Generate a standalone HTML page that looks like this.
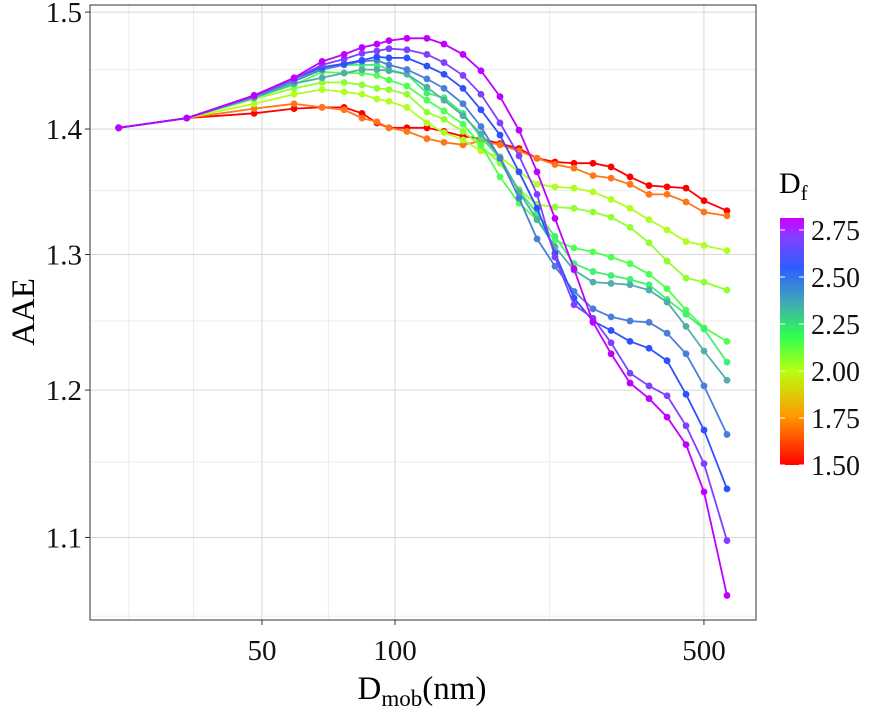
<!DOCTYPE html>
<html><head><meta charset="utf-8"><style>
body{margin:0;background:#fff;}
svg text{font-family:"Liberation Serif",serif;}
</style></head><body>
<svg id="chart" width="882" height="707" viewBox="0 0 882 707" xmlns="http://www.w3.org/2000/svg">
<defs>
<linearGradient id="cbar" x1="0" y1="1" x2="0" y2="0">
<stop offset="0" stop-color="#ff0000"/>
<stop offset="0.2" stop-color="#ff9a00"/>
<stop offset="0.38" stop-color="#b8ff10"/>
<stop offset="0.52" stop-color="#30ff50"/>
<stop offset="0.66" stop-color="#40a8b8"/>
<stop offset="0.8" stop-color="#2f5cff"/>
<stop offset="0.92" stop-color="#8040ff"/>
<stop offset="1" stop-color="#d000ff"/>
</linearGradient>
<clipPath id="pc"><rect x="90" y="5" width="666" height="615"/></clipPath>
</defs>
<g id="grid"></g>
<g id="series" clip-path="url(#pc)"></g>
<rect x="90" y="5" width="666" height="615" fill="none" stroke="#333" stroke-width="1"/>
<g id="axes"></g>
<text x="422" y="699" font-size="33" text-anchor="middle">D<tspan font-size="23" dy="7">mob</tspan><tspan dy="-7">(nm)</tspan></text>
<text transform="translate(34,312) rotate(-90)" font-size="33" text-anchor="middle">AAE</text>
<g>
<text x="779" y="193" font-size="30">D<tspan font-size="21" dy="7">f</tspan></text>
<rect x="780" y="218" width="24" height="247" fill="url(#cbar)"/>
<g id="cbticks"></g>
</g>
</svg>
<script>
const diameters=[23.7,33.8,48,59.1,68.4,76.7,84.2,91,96.9,106.4,118.1,129.1,142.5,156.5,172.8,190.8,209.6,230.1,254.1,280.5,308.2,340.2,375.6,412.6,455.4,500.2,563.8];
const dfValues=[1.5,1.6,1.8,1.9,2.0,2.1,2.2,2.4,2.5,2.65,2.8];
const seriesColors=["#ff0000","#ff7518","#b0ff20","#90ff30","#50ff50","#40f070","#50b0a8","#4a7fd8","#2f50ff","#8040ff","#c000ff"];
const s15=[1.401,1.409,1.413,1.417,1.418,1.418,1.413,1.405,1.401,1.401,1.401,1.398,1.394,1.392,1.388,1.384,1.376,1.373,1.372,1.372,1.369,1.361,1.354,1.353,1.352,1.342,1.334];
const s16=[1.401,1.409,1.417,1.421,1.418,1.416,1.409,1.406,1.401,1.398,1.392,1.389,1.387,1.390,1.387,1.382,1.376,1.371,1.368,1.362,1.360,1.355,1.347,1.347,1.341,1.333,1.330];
const s18=[1.401,1.409,1.421,1.429,1.433,1.431,1.429,1.425,1.423,1.418,1.405,1.397,1.391,1.382,1.377,1.365,1.355,1.353,1.352,1.349,1.343,1.336,1.327,1.319,1.310,1.307,1.303];
const s19=[1.401,1.409,1.425,1.434,1.439,1.439,1.437,1.434,1.433,1.429,1.414,1.408,1.398,1.386,1.372,1.351,1.339,1.337,1.336,1.333,1.329,1.321,1.309,1.295,1.282,1.279,1.273];
const s20=[1.401,1.409,1.426,1.437,1.448,1.447,1.447,1.445,1.441,1.436,1.424,1.415,1.404,1.387,1.361,1.340,1.327,1.311,1.305,1.302,1.298,1.293,1.285,1.274,1.258,1.245,1.235];
const s21=[1.401,1.409,1.427,1.440,1.451,1.454,1.454,1.454,1.450,1.446,1.430,1.426,1.413,1.393,1.376,1.350,1.332,1.314,1.293,1.287,1.284,1.281,1.277,1.266,1.255,1.244,1.220];
const s22=[1.401,1.409,1.426,1.438,1.443,1.447,1.450,1.450,1.449,1.446,1.435,1.424,1.411,1.396,1.377,1.349,1.327,1.306,1.288,1.279,1.278,1.277,1.273,1.264,1.246,1.228,1.207];
const s24=[1.401,1.409,1.427,1.440,1.450,1.454,1.457,1.458,1.454,1.450,1.442,1.434,1.421,1.402,1.376,1.344,1.312,1.291,1.272,1.259,1.253,1.250,1.249,1.241,1.226,1.203,1.169];
const s25=[1.401,1.409,1.428,1.442,1.452,1.455,1.458,1.461,1.460,1.460,1.453,1.446,1.434,1.416,1.395,1.365,1.336,1.301,1.267,1.250,1.243,1.235,1.230,1.221,1.197,1.172,1.132];
const s265=[1.401,1.409,1.428,1.442,1.454,1.459,1.464,1.466,1.468,1.467,1.463,1.456,1.445,1.429,1.405,1.378,1.347,1.298,1.262,1.252,1.234,1.212,1.203,1.196,1.175,1.149,1.098];
const s28=[1.401,1.409,1.428,1.443,1.457,1.463,1.469,1.472,1.475,1.477,1.477,1.472,1.463,1.449,1.427,1.399,1.365,1.328,1.289,1.249,1.226,1.205,1.194,1.181,1.162,1.130,1.063];
const allSeries=[s15,s16,s18,s19,s20,s21,s22,s24,s25,s265,s28];
const xTicks=[50,100,500];
const xMinor=[25,35,70.7,223.6];
const yTicks=[1.1,1.2,1.3,1.4,1.5];
const yMinor=[1.05,1.15,1.25,1.35,1.45];
const cbTicks=[1.5,1.75,2.0,2.25,2.5,2.75];

const NS="http://www.w3.org/2000/svg";
const xs=d=>395+442*Math.log10(d/100);
const ys=v=>129+(Math.log10(1.4)-Math.log10(v))*3900;
const cby=v=>465-(v-1.5)*188;
function mk(tag,attrs,parent){const e=document.createElementNS(NS,tag);for(const k in attrs)e.setAttribute(k,attrs[k]);parent.appendChild(e);return e;}
const grid=document.getElementById('grid');
const axes=document.getElementById('axes');
yMinor.forEach(v=>{const l=mk('line',{x1:90,x2:756,y1:ys(v),y2:ys(v),stroke:'#ededed','stroke-width':1},grid);

});
xMinor.forEach(v=>{const l=mk('line',{x1:xs(v),x2:xs(v),y1:5,y2:620,stroke:'#ededed','stroke-width':1},grid);

});
yTicks.forEach(v=>{const l=mk('line',{x1:90,x2:756,y1:ys(v),y2:ys(v),stroke:'#d6d6d6','stroke-width':1},grid);


const t=mk('line',{x1:85,x2:90,y1:ys(v),y2:ys(v),stroke:'#333'},axes);


const tx=mk('text',{x:82,y:ys(v)+10,'font-size':29,'text-anchor':'end',fill:'#111'},axes);
tx.textContent=v.toFixed(1);

});
xTicks.forEach(v=>{const l=mk('line',{x1:xs(v),x2:xs(v),y1:5,y2:620,stroke:'#d6d6d6','stroke-width':1},grid);


const t=mk('line',{x1:xs(v),x2:xs(v),y1:620,y2:625,stroke:'#333'},axes);


const tx=mk('text',{x:xs(v),y:660,'font-size':29,'text-anchor':'middle',fill:'#111'},axes);
tx.textContent=String(v);

});
const sg=document.getElementById('series');
allSeries.forEach((vals,i)=>{
const g=mk('g',{},sg);


const pts=vals.map((v,j)=>xs(diameters[j]).toFixed(1)+','+ys(v).toFixed(1)).join(' ');
const pl=mk('polyline',{points:pts,fill:'none',stroke:seriesColors[i],'stroke-width':1.8},g);


vals.forEach((v,j)=>{const c=mk('circle',{cx:xs(diameters[j]),cy:ys(v),r:3.4,fill:seriesColors[i]},g);

});
});
const cbt=document.getElementById('cbticks');
cbTicks.forEach(v=>{
const a=mk('line',{x1:780,x2:785,y1:cby(v),y2:cby(v),stroke:'#fff'},cbt);


const b=mk('line',{x1:799,x2:804,y1:cby(v),y2:cby(v),stroke:'#fff'},cbt);


const t=mk('text',{x:811,y:cby(v)+10,'font-size':28,fill:'#111'},cbt);
t.textContent=v.toFixed(2);

});
</script>
</body></html>
